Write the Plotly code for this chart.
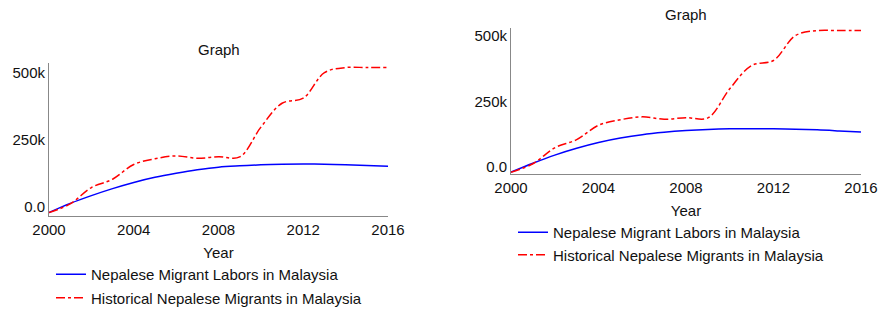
import plotly.graph_objects as go

years = list(range(2000, 2017))

historical = [-20000, 12000, 73000, 104000, 159000, 180000, 191000, 182000, 188000,
              187000, 298000, 387000, 406000, 501000, 520000, 520000, 520000]

labors_left = [-20000, 14000, 43000, 69000, 92000, 111000, 126000, 139000, 149000,
               154000, 157500, 159500, 160500, 160000, 158000, 155000, 152000]

labors_right = [-20000, 14000, 45000, 71000, 93000, 110000, 123000, 132000, 138500,
                143000, 145500, 146000, 145500, 144000, 141500, 137500, 133000]

name_labors = "Nepalese Migrant Labors in Malaysia"
name_hist = "Historical Nepalese Migrants in Malaysia"
ytickvals = [0, 250000, 500000]
yticktext = ["0.0", "250k", "500k"]
xtickvals = [2000, 2004, 2008, 2012, 2016]

W, H = 879, 310
FONT = "Liberation Sans, Arial, sans-serif"
FS = 15
TXT = "#111111"

fig = go.Figure()

fig.add_trace(go.Scatter(x=years, y=labors_left, mode="lines", name=name_labors,
                         line=dict(color="blue", width=1.5, shape="spline"),
                         xaxis="x", yaxis="y", legend="legend", legendgroup="a"))
fig.add_trace(go.Scatter(x=years, y=historical, mode="lines", name=name_hist,
                         line=dict(color="red", width=1.5, dash="dashdot", shape="spline"),
                         xaxis="x", yaxis="y", legend="legend", legendgroup="b"))
fig.add_trace(go.Scatter(x=years, y=labors_right, mode="lines", name=name_labors,
                         line=dict(color="blue", width=1.5, shape="spline"),
                         xaxis="x2", yaxis="y2", legend="legend2", legendgroup="c"))
fig.add_trace(go.Scatter(x=years, y=historical, mode="lines", name=name_hist,
                         line=dict(color="red", width=1.5, dash="dashdot", shape="spline"),
                         xaxis="x2", yaxis="y2", legend="legend2", legendgroup="d"))

def px_x(v):
    return v / W

def px_y(v):
    return 1 - v / H

axis_common = dict(showgrid=False, zeroline=False, showline=True, linecolor="#888888",
                   linewidth=1, ticks="", automargin=False,
                   tickfont=dict(size=FS, color=TXT))

fig.update_layout(
    width=W, height=H,
    margin=dict(l=0, r=0, t=0, b=0, autoexpand=False),
    paper_bgcolor="white", plot_bgcolor="white",
    font=dict(family=FONT, size=FS, color=TXT),
    xaxis=dict(domain=[px_x(49), px_x(388)], range=[2000, 2016], tickvals=xtickvals,
               anchor="y", title=dict(text="Year", standoff=10, font=dict(size=FS)), **axis_common),
    yaxis=dict(domain=[px_y(216), px_y(63)], range=[-33000, 537000], tickvals=ytickvals,
               ticktext=yticktext, anchor="x", **axis_common),
    xaxis2=dict(domain=[px_x(511), px_x(861)], range=[2000, 2016], tickvals=xtickvals,
                anchor="y2", title=dict(text="Year", standoff=10, font=dict(size=FS)), **axis_common),
    yaxis2=dict(domain=[px_y(174), px_y(28)], range=[-27000, 530000], tickvals=ytickvals,
                ticktext=yticktext, anchor="x2", **axis_common),
    legend=dict(x=px_x(51), y=px_y(258), xanchor="left", yanchor="top",
                bgcolor="rgba(0,0,0,0)", font=dict(size=FS), tracegroupgap=1,
                traceorder="grouped"),
    legend2=dict(x=px_x(513), y=px_y(216), xanchor="left", yanchor="top",
                 bgcolor="rgba(0,0,0,0)", font=dict(size=FS), tracegroupgap=0,
                 traceorder="grouped"),
    annotations=[
        dict(text="Graph", x=(px_x(49) + px_x(388)) / 2, y=px_y(49), xref="paper", yref="paper",
             showarrow=False, font=dict(size=FS), xanchor="center", yanchor="middle"),
        dict(text="Graph", x=(px_x(511) + px_x(861)) / 2, y=px_y(14), xref="paper", yref="paper",
             showarrow=False, font=dict(size=FS), xanchor="center", yanchor="middle"),
    ],
)

fig.write_html("out.html", config={"displayModeBar": False},
               post_script="document.body.style.margin='0';document.body.style.padding='0';")
